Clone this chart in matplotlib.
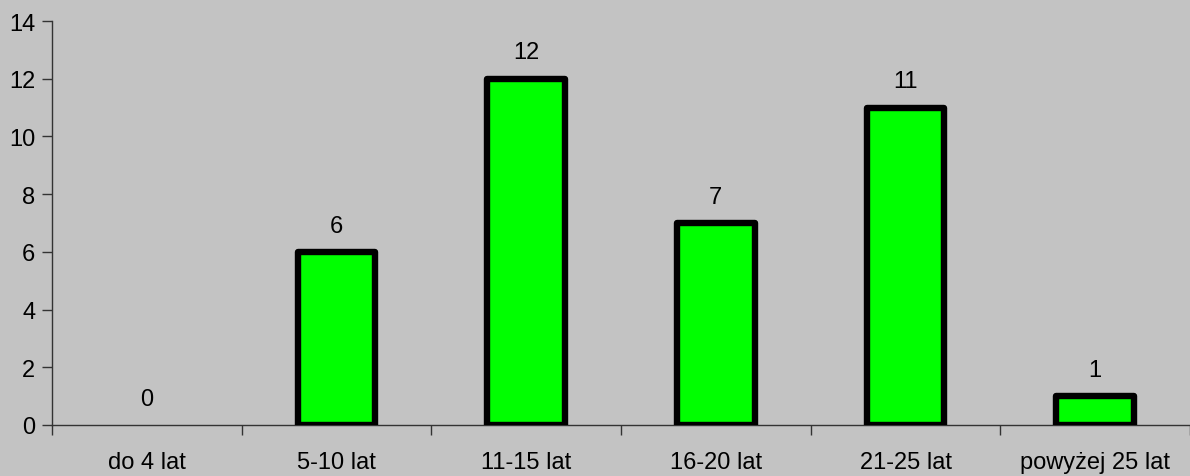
import matplotlib
matplotlib.use("Agg")
import matplotlib.pyplot as plt
import numpy as np

categories = ["do 4 lat", "5-10 lat", "11-15 lat", "16-20 lat", "21-25 lat", "powyżej 25 lat"]
values = [0, 6, 12, 7, 11, 1]
y_ticks = [0, 2, 4, 6, 8, 10, 12, 14]

bg = "#C3C3C3"
fs = 17
plt.rcParams["font.family"] = ["Liberation Sans", "DejaVu Sans"]

fig = plt.figure(figsize=(11.9, 4.77), dpi=100, facecolor=bg)
ax = fig.add_axes([52 / 1190, 51 / 477, 1 - 52 / 1190, (426 - 22) / 477])
ax.set_facecolor(bg)

x = np.arange(len(categories))
bars = ax.bar(x, values, width=0.41, color="#00FF00", edgecolor="black",
              linewidth=4.6, joinstyle="round", zorder=3)
for b in bars:
    if b.get_height() == 0:
        b.set_visible(False)

for xi, v in zip(x, values):
    ax.annotate(str(v), (xi, v), xytext=(0, 11), textcoords="offset points",
                ha="center", va="bottom", fontsize=fs, color="black")

ax.set_xlim(-0.5, len(categories) - 0.5)
ax.set_ylim(0, 14)
ax.set_yticks(y_ticks)
ax.set_yticklabels([str(t) for t in y_ticks], fontsize=fs)

ax.set_xticks(x)
ax.set_xticklabels(categories, fontsize=fs)
ax.tick_params(axis="x", which="major", length=0, pad=19)
ax.set_xticks(np.arange(len(categories) + 1) - 0.5, minor=True)
ax.tick_params(axis="x", which="minor", length=7, width=1, direction="out", color="#333333")
ax.tick_params(axis="y", length=7, width=1, direction="out", color="#333333", pad=5)

for s in ["top", "right"]:
    ax.spines[s].set_visible(False)
for s in ["left", "bottom"]:
    ax.spines[s].set_color("#333333")
    ax.spines[s].set_linewidth(1)

fig.savefig("out.png", dpi=100, facecolor=bg)
